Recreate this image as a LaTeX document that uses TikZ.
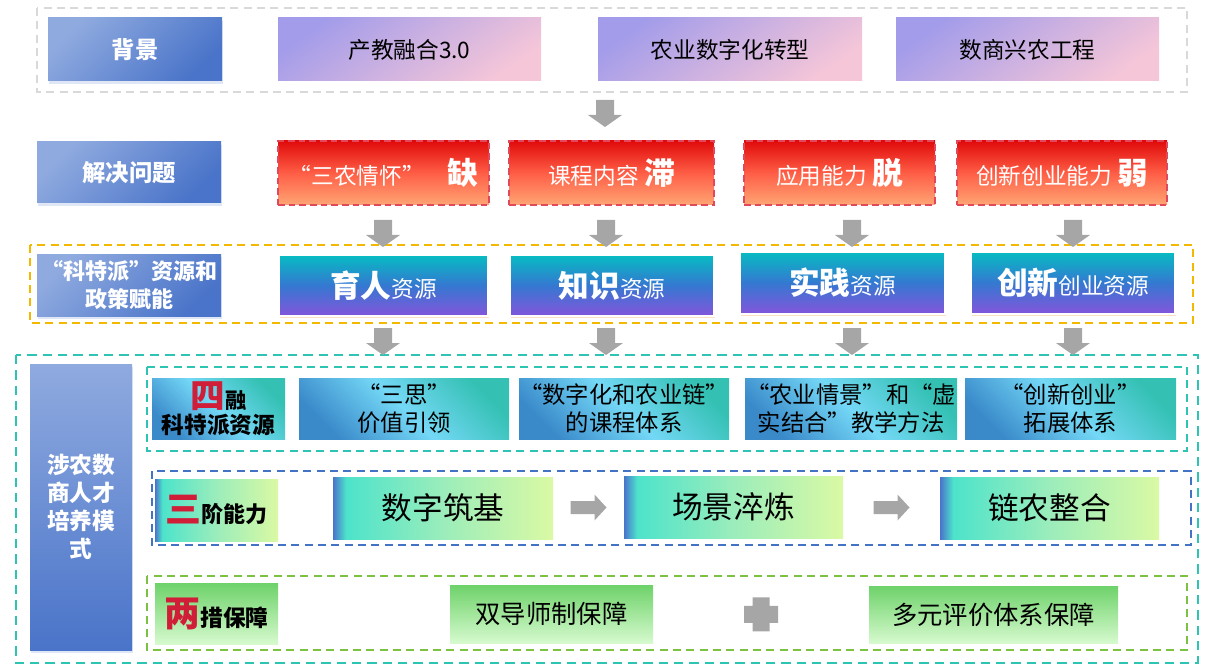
\documentclass[tikz,border=0pt]{standalone}
\usepackage{fontspec}
\setmainfont{Noto Sans CJK SC}
\usetikzlibrary{positioning,shadows,calc}

\definecolor{labA}{HTML}{8FAADF}
\definecolor{labB}{HTML}{4A74C9}
\definecolor{bgA}{HTML}{A39CEA}
\definecolor{bgB}{HTML}{F5C6D8}
\definecolor{pbA}{HTML}{E00B0B}
\definecolor{pbB}{HTML}{FF5E46}
\definecolor{pbC}{HTML}{FFA574}
\definecolor{pbLine}{HTML}{E2485C}
\definecolor{rsA}{HTML}{06BCC2}
\definecolor{rsB}{HTML}{3578D1}
\definecolor{rsC}{HTML}{8455DB}
\definecolor{frA}{HTML}{3A8ACA}
\definecolor{frB}{HTML}{74D8F6}
\definecolor{frC}{HTML}{34C1B4}
\definecolor{stgA}{HTML}{4A74CC}
\definecolor{stgB}{HTML}{4DE3CB}
\definecolor{stgC}{HTML}{9BEDBB}
\definecolor{stgD}{HTML}{DAF9A4}
\definecolor{guA}{HTML}{6ED26A}
\definecolor{guB}{HTML}{D6FACE}
\definecolor{hlred}{HTML}{D01E38}
\definecolor{arrgray}{HTML}{A6A6A6}
\definecolor{lnGray}{HTML}{D9D9D9}
\definecolor{lnGold}{HTML}{F4B800}
\definecolor{lnTeal}{HTML}{2EC4B4}
\definecolor{lnBlue}{HTML}{4472C4}
\definecolor{lnGreen}{HTML}{7CC142}

\pgfdeclarehorizontalshading{stageshade}{100bp}{color(0bp)=(stgA); color(25bp)=(stgA); color(28bp)=(stgB); color(50bp)=(stgC); color(75bp)=(stgD); color(100bp)=(stgD)}

\newcommand\setfs[2]{\fontsize{#1pt}{#2pt}\selectfont}

\tikzset{
  cell/.style n args={4}{minimum width={(#3-#1)*0.75pt}, minimum height={(#4-#2)*0.75pt}, at={({(#1+#3)/2},{(#2+#4)/2})}},
  box/.style={inner sep=0pt, outer sep=0pt, align=center},
  labbox/.style={box, top color=labA, bottom color=labB, shading angle=45, text=white, font=\setfs{17.5}{21}\bfseries, drop shadow={fill=labB!40, opacity=.45, shadow xshift=1pt, shadow yshift=-2.5pt}},
  bgbox/.style={box, top color=bgA, bottom color=bgB, shading angle=35, font=\setfs{17}{20}},
  pbbox/.style={box, top color=pbA, bottom color=pbC, middle color=pbB, draw=pbLine, line width=1.5pt, dash pattern=on 5pt off 3pt, text=white, font=\setfs{17}{20}},
  rsbox/.style={box, top color=rsA, bottom color=rsC, middle color=rsB, draw=white, line width=.8pt, text=white, font=\setfs{17}{20}, drop shadow={fill=orange!40, opacity=.6, shadow xshift=.8pt, shadow yshift=-1.8pt}},
  frbox/.style={box, top color=frC, bottom color=frA, middle color=frB, shading angle=-45, font=\setfs{17.5}{20.5}},
  stgbox/.style={box, shading=stageshade, font=\setfs{23}{26}},
  gubox/.style={box, top color=guA, bottom color=guB, font=\setfs{19}{22}},
  frame/.style={dash pattern=on 6pt off 4pt, line width=1.5pt},
  pics/downarr/.style={code={\fill[arrgray] (-9,0) -- (9,0) -- (9,15) -- (17,15) -- (0,27) -- (-17,15) -- (-9,15) -- cycle;}},
  pics/rightarr/.style={code={\fill[arrgray] (-18,-6.5) -- (6,-6.5) -- (6,-13) -- (18,0) -- (6,13) -- (6,6.5) -- (-18,6.5) -- cycle;}},
  pics/plussign/.style={code={\fill[arrgray] (-8.5,-17) rectangle (8.5,17) (-17,-8.5) rectangle (17,8.5);}}
}

\begin{document}
\begin{tikzpicture}[x=0.75pt,y=-0.75pt]
\useasboundingbox (0,0) rectangle (1205,670);
\draw[frame, draw=lnGray, line width=1.1pt] (37,8) rectangle (1187,92);
\draw[frame, draw=lnGold] (30,245) rectangle (1193,323);
\draw[frame, draw=lnTeal, line width=2.2pt, dash pattern=on 7pt off 4.5pt] (16,355) rectangle (1198,663);
\draw[frame, draw=lnTeal] (147,367) rectangle (1187,451);
\draw[frame, draw=lnBlue] (152,471) rectangle (1191,545);
\draw[frame, draw=lnGreen] (147,576) rectangle (1187,650);

\node[labbox, cell={48}{18}{222}{81}] (bg) {背景};
\node[bgbox, cell={278}{18}{541}{81}] (bg1) {产教融合3.0};
\node[bgbox, cell={598}{18}{862}{81}] (bg2) {农业数字化转型};
\node[bgbox, cell={896}{18}{1159}{81}] (bg3) {数商兴农工程};

\node[labbox, cell={37}{142}{221}{203}] (pb) {解决问题};
\node[pbbox, cell={278}{141}{489}{205}] (pb1) {“三农情怀”\quad{\setfs{23}{23}\bfseries 缺}};
\node[pbbox, cell={509}{141}{714}{205}] (pb2) {课程内容\ {\setfs{23}{23}\bfseries 滞}};
\node[pbbox, cell={744}{141}{935}{205}] (pb3) {应用能力\ {\setfs{23}{23}\bfseries 脱}};
\node[pbbox, cell={957}{141}{1167}{205}] (pb4) {创新创业能力\ {\setfs{23}{23}\bfseries 弱}};

\node[labbox, font=\setfs{16.5}{21}\bfseries, cell={37}{254}{221}{316}] (rs) {“科特派”资源和\\政策赋能};
\node[rsbox, cell={279}{255}{488}{316}] (rs1) {{\setfs{23}{24}\bfseries 育人}资源};
\node[rsbox, cell={510}{255}{714}{316}] (rs2) {{\setfs{23}{24}\bfseries 知识}资源};
\node[rsbox, cell={740}{252}{945}{314}] (rs3) {{\setfs{23}{24}\bfseries 实践}资源};
\node[rsbox, cell={971}{252}{1175}{314}] (rs4) {{\setfs{23}{24}\bfseries 创新}创业资源};

\foreach \x/\y in {605/100,383/220,606/220,852/220,1073/220,383/328,606/328,852/328,1073/328}{\pic at (\x,\y) {downarr};}

\node[labbox, shading angle=0, font=\setfs{17}{21}\bfseries, cell={30}{364}{132}{650}] (mode) {涉农数\\商人才\\培养模\\式};

\node[frbox, font=\setfs{17}{19}\bfseries, cell={152}{378}{285}{439}] (fr1) {{\color{hlred}\setfs{26}{26}四}{\setfs{16}{16}融}\\科特派资源};
\node[frbox, cell={299}{378}{509}{439}] (fr2) {“三思”\\价值引领};
\node[frbox, cell={519}{378}{729}{439}] (fr3) {“数字化和农业链”\\的课程体系};
\node[frbox, cell={745}{378}{957}{439}] (fr4) {“农业情景”和“虚\\实结合”教学方法};
\node[frbox, cell={965}{378}{1176}{439}] (fr5) {“创新创业”\\拓展体系};

\node[stgbox, font=\setfs{16.5}{20}\bfseries, cell={155}{479}{278}{541}] (st0) {{\color{hlred}\setfs{27}{27}三}阶能力};
\node[stgbox, cell={333}{477}{553}{539}] (st1) {数字筑基};
\node[stgbox, cell={624}{476}{843}{538}] (st2) {场景淬炼};
\node[stgbox, cell={940}{477}{1159}{539}] (st3) {链农整合};
\pic at ($(st1.east)!.5!(st2.west)$) {rightarr};
\pic at ($(st2.east)!.5!(st3.west)$) {rightarr};

\node[gubox, font=\setfs{17}{20}\bfseries, cell={155}{583}{278}{644}] (gu0) {{\color{hlred}\setfs{27}{27}两}措保障};
\node[gubox, cell={450}{585}{653}{643}] (gu1) {双导师制保障};
\node[gubox, cell={869}{586}{1118}{643}] (gu2) {多元评价体系保障};
\pic at ($(gu1.east)!.5!(gu2.west)$) {plussign};
\end{tikzpicture}
\end{document}
